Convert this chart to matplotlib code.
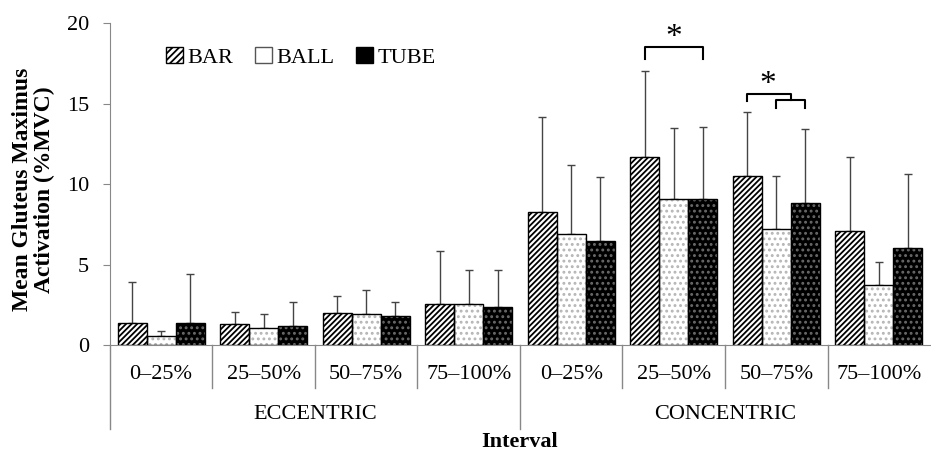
import numpy as np
import matplotlib.pyplot as plt
from matplotlib.patches import Patch

plt.rcParams['font.family'] = ['Liberation Serif', 'DejaVu Serif']
plt.rcParams['hatch.linewidth'] = 1.3

# Mean gluteus maximus activation (%MVC) and SD per interval
intervals = ['0–25%', '25–50%', '50–75%', '75–100%',
             '0–25%', '25–50%', '50–75%', '75–100%']
phases = ['ECCENTRIC', 'CONCENTRIC']
bar_mean = [1.4, 1.3, 2.0, 2.55, 8.25, 11.7, 10.5, 7.1]
bar_sd = [2.5, 0.75, 1.05, 3.3, 5.9, 5.3, 4.0, 4.6]
ball_mean = [0.55, 1.05, 1.9, 2.55, 6.9, 9.1, 7.2, 3.75]
ball_sd = [0.3, 0.85, 1.5, 2.1, 4.3, 4.4, 3.3, 1.4]
tube_mean = [1.4, 1.2, 1.8, 2.35, 6.45, 9.1, 8.8, 6.05]
tube_sd = [3.0, 1.45, 0.85, 2.3, 4.0, 4.45, 4.6, 4.55]

x = np.arange(len(intervals))
w = 0.283

fig = plt.figure(figsize=(9.31, 4.54), dpi=100)
ax = fig.add_axes([0.118, 0.240, 0.881, 0.709])

series = [
    ('BAR', bar_mean, bar_sd, 'white', '//////', 'black'),
    ('BALL', ball_mean, ball_sd, 'white', '...', '#b5b5b5'),
    ('TUBE', tube_mean, tube_sd, 'black', '...', '#6a6a6a'),
]
for i, (name, m, s, face, hatch, hcol) in enumerate(series):
    xs = x + (i - 1) * w
    ax.errorbar(xs, m, yerr=[np.zeros(len(m)), s], fmt='none',
                ecolor='#444444', elinewidth=1, capsize=3, capthick=1, zorder=1)
    ax.bar(xs, m, w, color=face, edgecolor=hcol, hatch=hatch, lw=0, zorder=2)
    ax.bar(xs, m, w, facecolor='none', edgecolor='black', lw=1, zorder=3)

ax.set_xlim(-0.5, 7.5)
ax.set_ylim(0, 20)
ax.set_yticks([0, 5, 10, 15, 20])
ax.tick_params(axis='y', labelsize=16, length=5, color='#888888', pad=10)
ax.set_xticks([])
for side in ['top', 'right']:
    ax.spines[side].set_visible(False)
for side in ['left', 'bottom']:
    ax.spines[side].set_color('#888888')

# category table under the axis
trans = ax.get_xaxis_transform()
for k in range(len(intervals)):
    y_end = -0.26 if k in (0, 4) else -0.135
    ax.plot([k - 0.5, k - 0.5], [0, y_end], color='#888888', lw=1,
            transform=trans, clip_on=False)
for k, lab in enumerate(intervals):
    ax.text(k, -0.09, lab, transform=trans, ha='center', va='center', fontsize=16)
for j, ph in enumerate(phases):
    ax.text(1.5 + 4 * j, -0.215, ph, transform=trans, ha='center', va='center',
            fontsize=16)
ax.text(3.5, -0.30, 'Interval', transform=trans, ha='center', va='center',
        fontsize=16, fontweight='bold')

fig.text(0.036, 0.583, 'Mean Gluteus Maximus\nActivation (%MVC)', rotation=90,
         ha='center', va='center', multialignment='center', fontsize=17,
         fontweight='bold', linespacing=1.05)

# significance brackets
def bracket(x0, x1, y, drop_l, drop_r):
    ax.plot([x0, x0, x1, x1], [y - drop_l, y, y, y - drop_r], color='black', lw=1.5)

bracket(5 - w, 5 + w, 18.5, 0.75, 0.75)
ax.text(5, 19.1, '*', ha='center', va='center', fontsize=24)
bracket(6, 6 + w, 15.2, 0.45, 0.45)
bracket(6 - w, 6 + w / 2, 15.6, 0.45, 0.4)
ax.text(5.92, 16.2, '*', ha='center', va='center', fontsize=24)

handles = [
    Patch(facecolor='white', edgecolor='black', hatch='/////', lw=1),
    Patch(facecolor='white', edgecolor='#555555', lw=1),
    Patch(facecolor='black', edgecolor='black', lw=1),
]
ax.legend(handles, ['BAR', 'BALL', 'TUBE'], loc='center left', ncol=3,
          frameon=False, fontsize=16, handlelength=0.75, handleheight=0.75,
          handletextpad=0.2, columnspacing=1.0, bbox_to_anchor=(0.044, 0.894))

fig.savefig('out.png', dpi=100)
